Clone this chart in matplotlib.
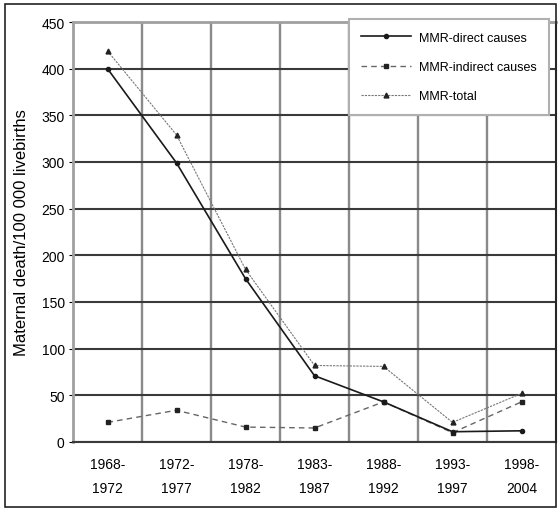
import matplotlib.pyplot as plt
from matplotlib.patches import Rectangle
from matplotlib.ticker import MultipleLocator

plt.rcParams['font.family'] = ['Liberation Sans', 'DejaVu Sans']

periods = ['1968-\n1972', '1972-\n1977', '1978-\n1982', '1983-\n1987',
           '1988-\n1992', '1993-\n1997', '1998-\n2004']
mmr_direct = [400, 299, 175, 71, 43, 11, 12]
mmr_indirect = [21, 34, 16, 15, 43, 10, 43]
mmr_total = [419, 329, 185, 82, 81, 21, 52]

fig = plt.figure(figsize=(5.59, 5.10), dpi=100)
ax = fig.add_axes([73 / 559, 1 - 443 / 510, 483 / 559, 420 / 510])

x = list(range(len(periods)))

# grid: horizontal dark, vertical grey at category boundaries
ax.set_xlim(-0.5, len(periods) - 0.5)
ax.set_ylim(0, 450)
ax.yaxis.set_major_locator(MultipleLocator(50))
ax.set_xticks(x)
ax.set_xticklabels(periods, fontsize=10, linespacing=1.9)
ax.set_xticks([i + 0.5 for i in x[:-1]], minor=True)
ax.grid(axis='y', which='major', color='#3a3a3a', lw=1.5, zorder=1)
ax.grid(axis='x', which='minor', color='#8a8a8a', lw=1.7, zorder=1)
ax.tick_params(axis='x', which='both', length=0, pad=11)
ax.tick_params(axis='y', length=3, width=0.8, labelsize=10, pad=3)

ax.plot(x, mmr_direct, color='#1a1a1a', lw=1.2, marker='o', ms=3,
        label='MMR-direct causes', zorder=4)
ax.plot(x, mmr_indirect, color='#666666', lw=1.0, ls=(0, (4, 3)), marker='s', ms=3,
        markerfacecolor='#222222', markeredgecolor='#222222',
        label='MMR-indirect causes', zorder=3)
ax.plot(x, mmr_total, color='#777777', lw=0.8, ls=(0, (2, 1)), marker='^', ms=3.5,
        markerfacecolor='#222222', markeredgecolor='#222222',
        label='MMR-total', zorder=3)

for side in ['top', 'left']:
    ax.spines[side].set_color('#a0a0a0')
    ax.spines[side].set_linewidth(2.0)
for side in ['bottom', 'right']:
    ax.spines[side].set_color('#3a3a3a')
    ax.spines[side].set_linewidth(1.5)

ax.set_ylabel('Maternal death/100 000 livebirths', fontsize=12, labelpad=9)

leg = ax.legend(loc='upper right', bbox_to_anchor=(549 / 559, 1 - 20 / 510),
                bbox_transform=fig.transFigure, fontsize=9, frameon=True,
                fancybox=False, borderpad=1.0, labelspacing=1.4,
                handlelength=4.0, handletextpad=0.6, borderaxespad=0)
leg.get_frame().set_edgecolor('#b0b0b0')
leg.get_frame().set_linewidth(1.5)
leg.get_frame().set_alpha(1)

# outer frame around the whole picture
fig.add_artist(Rectangle((5 / 559, 2 / 510), 551 / 559, 503 / 510,
                         transform=fig.transFigure, fill=False,
                         edgecolor='#222222', lw=1.2))

fig.savefig('out.png', dpi=100)
